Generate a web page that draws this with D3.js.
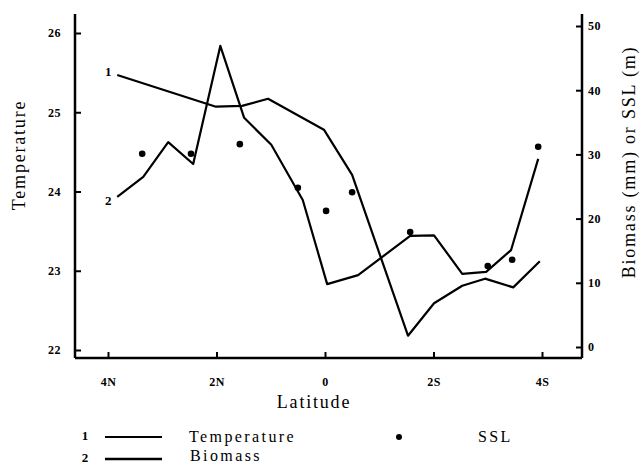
<!doctype html>
<html>
<head>
<meta charset="utf-8">
<script src="https://cdn.jsdelivr.net/npm/d3@7"></script>
<style>
  body { margin: 0; background: #fff; }
  svg { display: block; }
  .tick text { font-family: "Liberation Serif", serif; font-weight: bold; font-size: 12px; letter-spacing: 0.5px; fill: #000; }
  .tick line { stroke: #000; stroke-width: 2; }
  .lbl { font-family: "Liberation Serif", serif; font-size: 18px; letter-spacing: 1.8px; fill: #000; }
  .leg { font-family: "Liberation Serif", serif; font-size: 16px; letter-spacing: 2.4px; fill: #000; }
  .num { font-family: "Liberation Serif", serif; font-weight: bold; font-size: 13px; fill: #000; }
</style>
</head>
<body>
<script>
// latitude: positive = north, negative = south
var latTicks = [4, 2, 0, -2, -4];
var latTickLabels = ['4N', '2N', '0', '2S', '4S'];
var tempTicks = [22, 23, 24, 25, 26];
var rightTicks = [0, 10, 20, 30, 40, 50];

// line 1: temperature (left axis)
var tempLat = [3.83, 2.01, 1.53, 1.05, 0.02, -0.5, -1.53, -2.01, -2.53, -2.95, -3.47, -3.96];
var tempVal = [25.47, 25.07, 25.08, 25.17, 24.78, 24.21, 22.18, 22.59, 22.81, 22.90, 22.79, 23.12];

// line 2: biomass (right axis, mm)
var bioLat = [3.83, 3.35, 2.89, 2.43, 1.93, 1.49, 0.99, 0.41, -0.04, -0.61, -1.57, -2.01, -2.53, -2.97, -3.43, -3.93];
var bioVal = [23.4, 26.5, 31.9, 28.5, 46.9, 35.7, 31.5, 22.9, 9.8, 11.2, 17.3, 17.4, 11.4, 11.7, 15.1, 29.3];

// SSL points (right axis, m)
var sslLat = [3.37, 2.47, 1.57, 0.5, -0.02, -0.5, -1.57, -3.0, -3.45, -3.93];
var sslVal = [30.1, 30.1, 31.6, 24.8, 21.2, 24.1, 17.9, 12.6, 13.6, 31.2];

var W = 641, H = 466;
var axL = 75, axR = 582, axTop = 14, axBottom = 358;

var svg = d3.select('body').append('svg')
    .attr('width', W)
    .attr('height', H);

var x = d3.scaleLinear().domain([4, -4]).range([108, 542]);
var yT = d3.scaleLinear().domain([22, 26]).range([350, 33]);
var yR = d3.scaleLinear().domain([0, 50]).range([347, 26]);

// axes
svg.append('g')
    .attr('transform', 'translate(' + axL + ',0)')
    .call(d3.axisLeft(yT).tickValues(tempTicks).tickSize(-6).tickPadding(14).tickFormat(d3.format('d')))
    .call(function(g){ g.select('.domain').remove(); });

svg.append('g')
    .attr('transform', 'translate(' + axR + ',0)')
    .call(d3.axisRight(yR).tickValues(rightTicks).tickSize(-6).tickPadding(6).tickFormat(d3.format('d')))
    .call(function(g){ g.select('.domain').remove(); });

svg.append('g')
    .attr('transform', 'translate(0,' + axBottom + ')')
    .call(d3.axisBottom(x).tickValues(latTicks).tickSize(-6).tickPadding(19)
        .tickFormat(function(d, i){ return latTickLabels[i]; }))
    .call(function(g){ g.select('.domain').remove(); });

// frame lines (left, right, bottom)
var frame = svg.append('g').attr('stroke', '#000').attr('stroke-width', 2.5).attr('fill', 'none');
frame.append('line').attr('x1', axL).attr('x2', axL).attr('y1', axTop).attr('y2', axBottom);
frame.append('line').attr('x1', axR).attr('x2', axR).attr('y1', axTop).attr('y2', axBottom);
frame.append('line').attr('x1', axL).attr('x2', axR).attr('y1', axBottom).attr('y2', axBottom);

// lines
var tempLine = d3.line()
    .x(function(d){ return x(d[0]); })
    .y(function(d){ return yT(d[1]); });
var bioLine = d3.line()
    .x(function(d){ return x(d[0]); })
    .y(function(d){ return yR(d[1]); });

var tempData = d3.zip(tempLat, tempVal);
var bioData = d3.zip(bioLat, bioVal);

svg.append('path')
    .datum(tempData)
    .attr('d', tempLine)
    .attr('fill', 'none')
    .attr('stroke', '#000')
    .attr('stroke-width', 2.2)
    .attr('stroke-linejoin', 'round');

svg.append('path')
    .datum(bioData)
    .attr('d', bioLine)
    .attr('fill', 'none')
    .attr('stroke', '#000')
    .attr('stroke-width', 2.2)
    .attr('stroke-linejoin', 'round');

// line numbers at the start of each line
svg.append('text').attr('class', 'num')
    .attr('x', x(tempData[0][0]) - 9).attr('y', yT(tempData[0][1]) - 2)
    .attr('text-anchor', 'middle').attr('dominant-baseline', 'middle').text('1');
svg.append('text').attr('class', 'num')
    .attr('x', x(bioData[0][0]) - 9).attr('y', yR(bioData[0][1]) + 5)
    .attr('text-anchor', 'middle').attr('dominant-baseline', 'middle').text('2');

// SSL points
svg.selectAll('circle.ssl')
    .data(d3.zip(sslLat, sslVal))
    .enter().append('circle')
    .attr('class', 'ssl')
    .attr('cx', function(d){ return x(d[0]); })
    .attr('cy', function(d){ return yR(d[1]); })
    .attr('r', 3.3)
    .attr('fill', '#000');

// axis titles
svg.append('text').attr('class', 'lbl')
    .attr('x', 314).attr('y', 408)
    .attr('text-anchor', 'middle').text('Latitude');

svg.append('text').attr('class', 'lbl')
    .attr('transform', 'translate(25,155) rotate(-90)')
    .attr('text-anchor', 'middle').text('Temperature');

svg.append('text').attr('class', 'lbl')
    .attr('transform', 'translate(635,162) rotate(-90)')
    .attr('text-anchor', 'middle').text('Biomass (mm) or SSL (m)');

// legend
var legend = svg.append('g');
legend.append('text').attr('class', 'num').attr('x', 85).attr('y', 437)
    .attr('text-anchor', 'middle').attr('dominant-baseline', 'middle').text('1');
legend.append('line').attr('x1', 105).attr('x2', 162).attr('y1', 437).attr('y2', 437)
    .attr('stroke', '#000').attr('stroke-width', 2);
legend.append('text').attr('class', 'leg').attr('x', 189).attr('y', 442).text('Temperature');
legend.append('circle').attr('cx', 399).attr('cy', 437).attr('r', 3).attr('fill', '#000');
legend.append('text').attr('class', 'leg').attr('x', 478).attr('y', 442).text('SSL');
legend.append('text').attr('class', 'num').attr('x', 85).attr('y', 459)
    .attr('text-anchor', 'middle').attr('dominant-baseline', 'middle').text('2');
legend.append('line').attr('x1', 105).attr('x2', 162).attr('y1', 459).attr('y2', 459)
    .attr('stroke', '#000').attr('stroke-width', 2.5);
legend.append('text').attr('class', 'leg').attr('x', 190).attr('y', 461).text('Biomass');
</script>
</body>
</html>
